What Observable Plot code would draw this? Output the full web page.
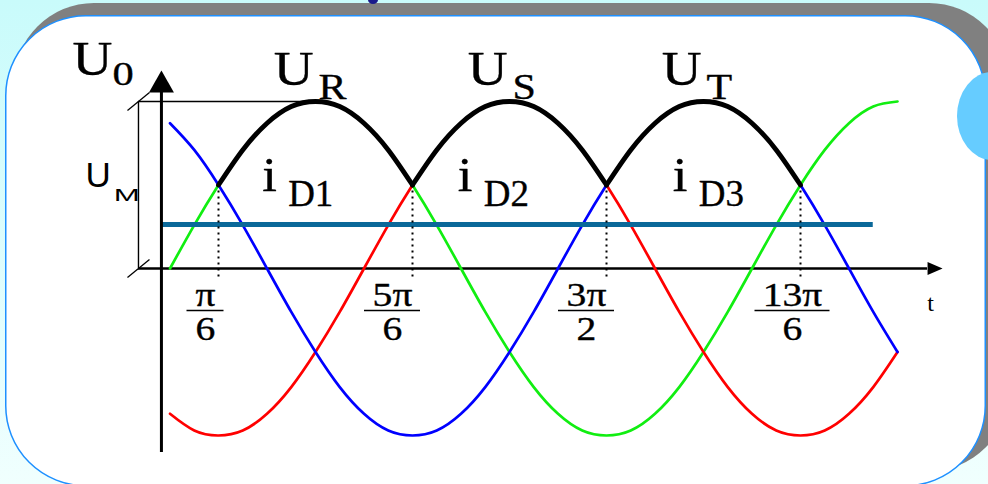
<!DOCTYPE html>
<html>
<head>
<meta charset="utf-8">
<script src="https://cdn.jsdelivr.net/npm/d3@7"></script>
<script src="https://cdn.jsdelivr.net/npm/@observablehq/plot@0.6"></script>
<style>
  html, body { margin: 0; padding: 0; overflow: hidden; }
  #stage { position: relative; width: 988px; height: 484px; overflow: hidden; }
  #bg, #chart { position: absolute; left: 0; top: 0; }
</style>
</head>
<body>
<div id="stage">
  <svg id="bg" width="988" height="484"></svg>
  <div id="chart"></div>
</div>
<script>
// ---- data (angle in degrees, voltage in units of U_max) ----
const tDeg = [0,15,30,45,60,75,90,105,120,135,150,165,180,195,210,225,240,255,270,285,300,315,330,345,360,375,390,405,420,435,450];
const uR = [0,.26,.5,.71,.87,.97,1,.97,.87,.71,.5,.26,0,-.26,-.5,-.71,-.87,-.97,-1,-.97,-.87,-.71,-.5,-.26,0,.26,.5,.71,.87,.97,1];      // green
const uS = [-.87,-.97,-1,-.97,-.87,-.71,-.5,-.26,0,.26,.5,.71,.87,.97,1,.97,.87,.71,.5,.26,0,-.26,-.5,-.71,-.87,-.97,-1,-.97,-.87,-.71,-.5]; // red
const uT = [.87,.71,.5,.26,0,-.26,-.5,-.71,-.87,-.97,-1,-.97,-.87,-.71,-.5,-.26,0,.26,.5,.71,.87,.97,1,.97,.87,.71,.5,.26,0,-.26,-.5];   // blue
const phaseNames = ["R", "S", "T"];
const diodeNames = ["D1", "D2", "D3"];
const diodeLabelDeg = [57, 178, 311];   // where each i_D label sits along t
const cuspDeg = [30, 150, 270, 390];
const tickNum = ["π", "5π", "3π", "13π"];
const tickDen = ["6", "6", "2", "6"];
const uMean = 0.263;     // average output level (teal line)

// ---- scales ----
const xDomain = [0, 450], xRange = [169.5, 897];
const yDomain = [-1, 1], yRange = [435, 101];
const k = (xRange[1] - xRange[0]) / (xDomain[1] - xDomain[0]); // px per degree
const pxToDeg = px => px / k;

// ---- derived tables ----
const series = [
  {name: "R", color: "#11ee11", v: uR},
  {name: "S", color: "#ff0000", v: uS},
  {name: "T", color: "#0000ff", v: uT}
];
const waves = series.flatMap(s => tDeg.map((t, i) => ({t, v: s.v[i], phase: s.name, color: s.color})));
const envelope = [];
for (let s = 0; s < cuspDeg.length - 1; s++) {
  tDeg.forEach((t, i) => {
    if (t >= cuspDeg[s] && t <= cuspDeg[s + 1]) envelope.push({t, v: Math.max(uR[i], uS[i], uT[i]), seg: s});
  });
}
const peaks = phaseNames.map((name, i) => {
  const s = series[i];
  let best = 0;
  tDeg.forEach((t, j) => { if (t >= cuspDeg[i] && t <= cuspDeg[i + 1] && s.v[j] > s.v[best]) best = j; });
  return {name, t: tDeg[best], v: s.v[best]};
});
const diodes = diodeNames.map((name, i) => ({name, t: diodeLabelDeg[i], v: 0.467}));
const ticks = cuspDeg.map((t, i) => ({t, num: tickNum[i], den: tickDen[i]}));

// layout: horizontal shift (px) of each fraction label from its instant
const fracShift = [-13, -20, -20, -8];
const fracX = (d, i) => d.t + pxToDeg(fracShift[i]);
const fracHalf = d => pxToDeg(9 + 9.5 * d.num.length);

// axis geometry (data units)
const axisX = -5.3, dimX = -19.5;
const yAxisBottom = -1.102, yAxisTop = 1.054;
const xAxisEnd = 468.6;
const tealEnd = 435;

const SERIF = "Liberation Serif";
const SANS = "Liberation Sans";

const upHead = {draw(c) { c.moveTo(0, -22); c.lineTo(12.5, 0); c.lineTo(-12.5, 0); c.closePath(); }};
const rightHead = {draw(c) { c.moveTo(15, 0); c.lineTo(0, -6.5); c.lineTo(0, 6.5); c.closePath(); }};
const slash = {draw(c) { c.moveTo(-11, 9); c.lineTo(11, -9); }};

// text marks; horizontal stretch is applied after render
const texts = [];
function label(data, opts, family = SERIF, stretch = 1) {
  texts.push({family, stretch});
  return Plot.text(data, {lineAnchor: "bottom", fill: "black", fontFamily: family, ...opts});
}
const bold = {stroke: "black", strokeWidth: 0.35};

const marks = [
  // dimension (U_M) construction
  Plot.ruleY([1], {x1: dimX, x2: peaks[0].t, stroke: "black", strokeWidth: 1.4}),
  Plot.ruleY([0], {x1: dimX, x2: xAxisEnd, stroke: "black", strokeWidth: 2.5}),
  Plot.ruleX([dimX], {y1: 0, y2: 1, stroke: "black", strokeWidth: 1.4}),
  Plot.dot([0, 1], {x: () => dimX, y: d => d, symbol: slash, stroke: "black", strokeWidth: 1.3, fill: "none", r: 5}),
  // phase voltages
  Plot.line(waves, {x: "t", y: "v", z: "phase", stroke: "color", strokeWidth: 2.7, curve: "natural"}),
  // average output voltage
  Plot.ruleY([uMean], {x1: axisX, x2: tealEnd, stroke: "#0a6899", strokeWidth: 5}),
  // rectified envelope
  Plot.line(envelope, {x: "t", y: "v", z: "seg", stroke: "black", strokeWidth: 4.8, curve: "natural", strokeLinecap: "round"}),
  // commutation instants
  Plot.ruleX(ticks, {x: "t", y1: 0.5, y2: -0.06, stroke: "black", strokeWidth: 2, strokeDasharray: "2,4"}),
  // axes
  Plot.ruleX([axisX], {y1: yAxisBottom, y2: yAxisTop, stroke: "black", strokeWidth: 3}),
  Plot.dot([yAxisTop], {x: () => axisX, y: d => d, symbol: upHead, fill: "black", stroke: "none", r: 5}),
  Plot.dot([xAxisEnd], {x: d => d, y: () => 0, symbol: rightHead, fill: "black", stroke: "none", r: 5}),
  // tick fractions
  label(ticks, {x: fracX, y: () => 0, text: "num", dy: 37, textAnchor: "middle", fontSize: 33, ...bold}, SERIF, 1.2),
  Plot.ruleY(ticks, {y: () => 0, x1: (d, i) => fracX(d, i) - fracHalf(d), x2: (d, i) => fracX(d, i) + fracHalf(d), dy: 42, stroke: "black", strokeWidth: 1.5}),
  label(ticks, {x: fracX, y: () => 0, text: "den", dy: 71, textAnchor: "middle", fontSize: 33, ...bold}, SERIF, 1.2),
  label(["t"], {x: () => xAxisEnd, y: () => 0, text: d => d, dx: 3, dy: 42, textAnchor: "middle", fontSize: 24}),
  // U0
  label(["U"], {x: () => axisX, y: () => yAxisTop, text: d => d, dx: -89, dy: -17, textAnchor: "start", fontSize: 48, ...bold}, SERIF, 1.15),
  label(["0"], {x: () => axisX, y: () => yAxisTop, text: d => d, dx: -49, dy: -7, textAnchor: "start", fontSize: 34, ...bold}, SERIF, 1.25),
  // U_M
  label(["U"], {x: () => dimX, y: () => 0.5, text: d => d, dx: -53, dy: 2.2, textAnchor: "start", fontSize: 35}, SANS),
  label(["M"], {x: () => dimX, y: () => 0.5, text: d => d, dx: -24.7, dy: 15.5, textAnchor: "start", fontSize: 16.5}, SANS, 1.9),
  // phase labels
  label(peaks, {x: "t", y: "v", text: () => "U", dx: -2, dy: -17, textAnchor: "end", fontSize: 48, ...bold}, SERIF, 1.15),
  label(peaks, {x: "t", y: "v", text: "name", dx: 3, dy: -3, textAnchor: "start", fontSize: 35, ...bold}, SERIF, 1.2),
  // diode current labels
  label(diodes, {x: "t", y: "v", text: () => "i", dx: 0, dy: 0, textAnchor: "start", fontSize: 48, ...bold}, SERIF, 1.1),
  label(diodes, {x: "t", y: "v", text: "name", dx: 26, dy: 15, textAnchor: "start", fontSize: 37, ...bold}, SERIF)
];

const plot = Plot.plot({
  width: 988, height: 484, margin: 0,
  style: {background: "transparent", overflow: "visible"},
  x: {domain: xDomain, range: xRange, axis: null},
  y: {domain: yDomain, range: yRange, axis: null},
  marks
});
// font family (inline style, single family) and horizontal stretch of the lettering
plot.querySelectorAll('g[aria-label="text"]').forEach((g, i) => {
  const cfg = texts[i];
  if (!cfg) return;
  g.querySelectorAll("text").forEach(t => {
    t.style.fontFamily = `'${cfg.family}'`;
    if (cfg.stretch !== 1) t.setAttribute("transform", (t.getAttribute("transform") || "") + ` scale(${cfg.stretch},1)`);
  });
});
document.getElementById("chart").appendChild(plot);

// ---- slide background ----
const bg = d3.select("#bg");
const grad = bg.append("defs").append("linearGradient").attr("id", "sky").attr("x1", 0).attr("y1", 0).attr("x2", 0).attr("y2", 1);
grad.append("stop").attr("offset", 0).attr("stop-color", "#c9fbfb");
grad.append("stop").attr("offset", 1).attr("stop-color", "#f0fffe");
bg.append("rect").attr("width", 988).attr("height", 484).attr("fill", "url(#sky)");
bg.append("rect").attr("x", 14).attr("y", 3).attr("width", 995).attr("height", 468).attr("rx", 80).attr("fill", "#808080");
bg.append("rect").attr("x", 5.75).attr("y", 15.75).attr("width", 979.5).attr("height", 470).attr("rx", 80)
  .attr("fill", "#ffffff").attr("stroke", "#1e90ff").attr("stroke-width", 1.5);
bg.append("ellipse").attr("cx", 992).attr("cy", 116).attr("rx", 35).attr("ry", 44).attr("fill", "#66ccff");
bg.append("ellipse").attr("cx", 373).attr("cy", 0).attr("rx", 5).attr("ry", 4).attr("fill", "#1a1a8c");
</script>
</body>
</html>
